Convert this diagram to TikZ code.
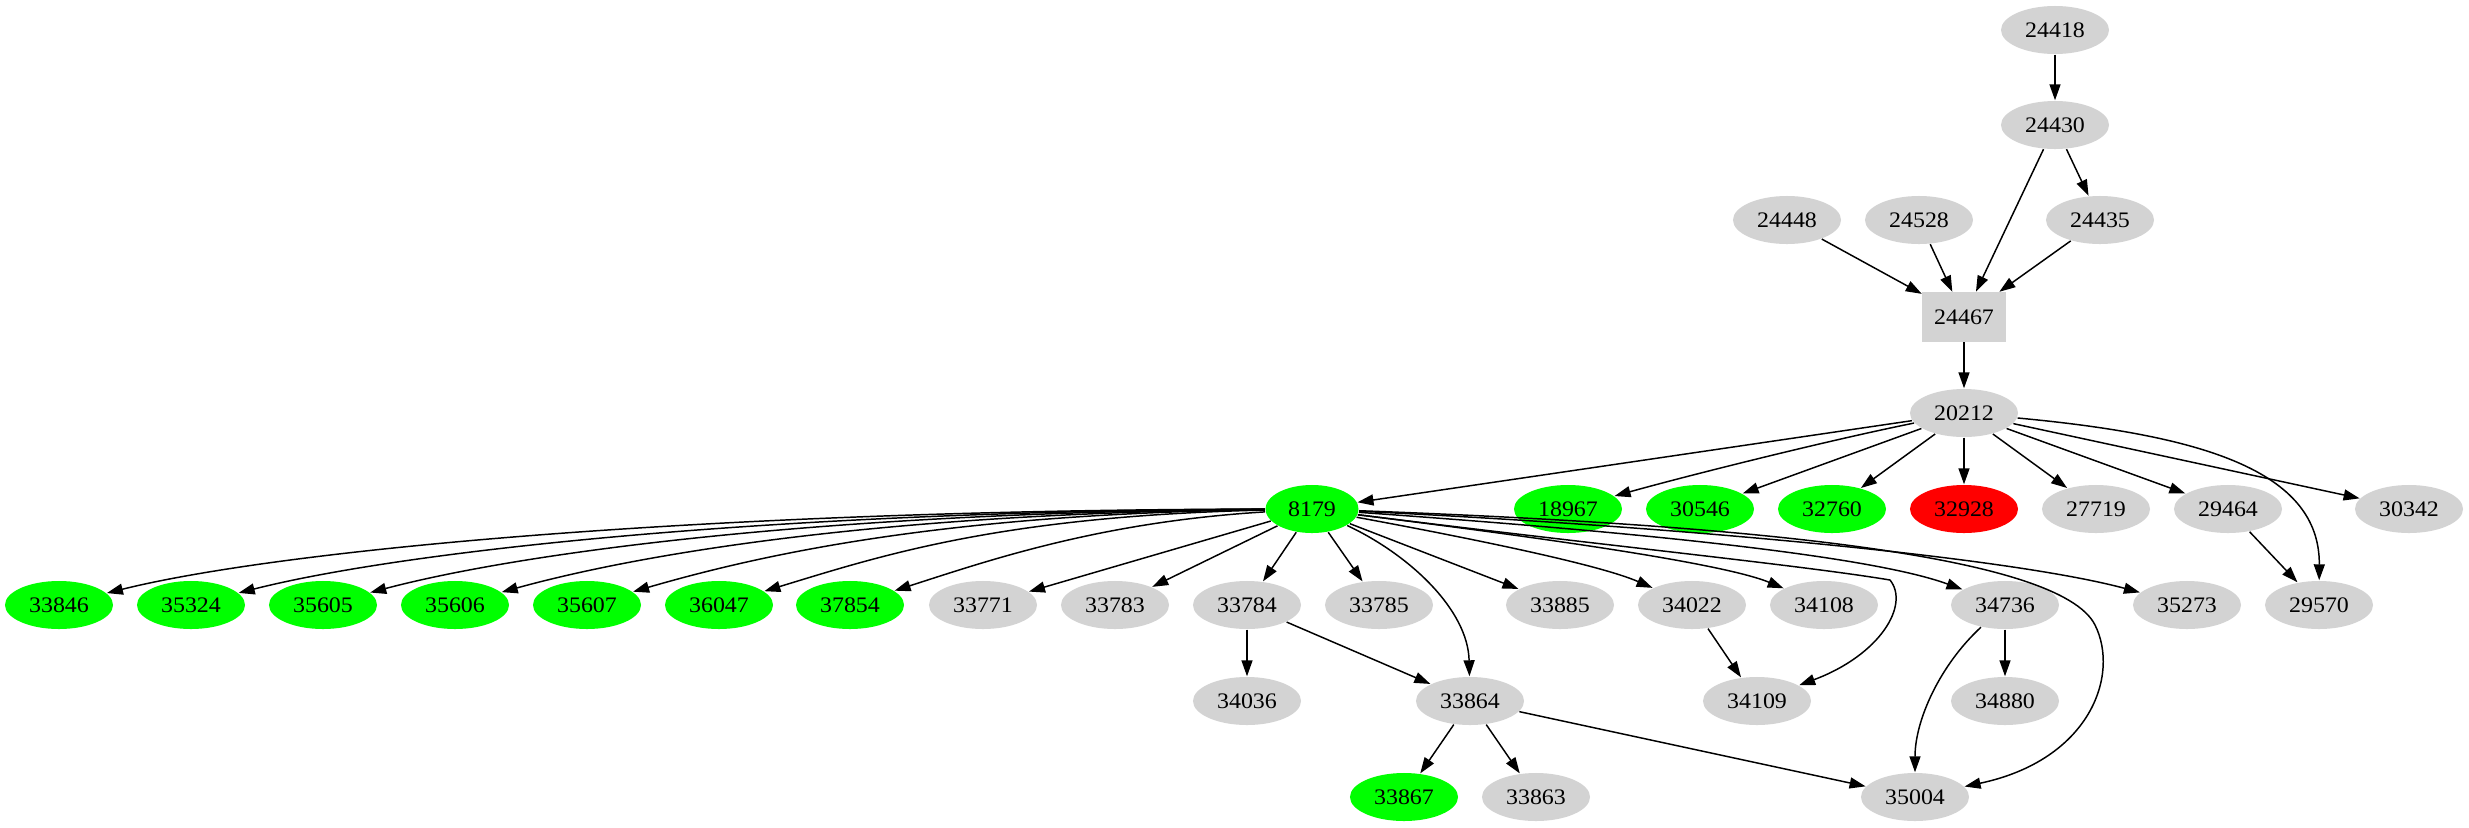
\documentclass[tikz,border=0pt]{standalone}
\usepackage{fontspec}
\setmainfont{Liberation Serif}
\usetikzlibrary{shapes.geometric,arrows.meta}
\definecolor{lgray}{HTML}{D3D3D3}
\definecolor{lgreen}{HTML}{00FF00}
\definecolor{lred}{HTML}{FF0000}
\newcommand{\lb}[1]{\scalebox{1.08}[1]{#1}}
\begin{document}
\begin{tikzpicture}[x=0.01cm,y=-0.01cm,
  gnode/.style={ellipse,fill=lgray,draw=none,minimum width=1.08cm,minimum height=0.48cm,inner sep=0pt,font=\fontsize{6.3}{7.5}\selectfont},
  grn/.style={gnode,fill=lgreen},
  rd/.style={gnode,fill=lred},
  boxnode/.style={rectangle,fill=lgray,draw=none,minimum width=0.83cm,minimum height=0.49cm,inner sep=0pt,font=\fontsize{6.3}{7.5}\selectfont},
  link/.style={draw=black,line width=0.42pt,-{Triangle[length=1.6mm,width=1.1mm]}}]
\useasboundingbox (0,0) rectangle (2469,827);
% nodes
\node[gnode] (n24418) at (2055,30) {\lb{24418}};
\node[gnode] (n24430) at (2055,125) {\lb{24430}};
\node[gnode] (n24448) at (1787,220) {\lb{24448}};
\node[gnode] (n24528) at (1919,220) {\lb{24528}};
\node[gnode] (n24435) at (2100,220) {\lb{24435}};
\node[boxnode] (n24467) at (1964,317) {\lb{24467}};
\node[gnode] (n20212) at (1964,413) {\lb{20212}};
\node[grn,minimum width=0.93cm] (n8179) at (1312,509) {\lb{8179}};
\node[grn] (n18967) at (1568,509) {\lb{18967}};
\node[grn] (n30546) at (1700,509) {\lb{30546}};
\node[grn] (n32760) at (1832,509) {\lb{32760}};
\node[rd] (n32928) at (1964,509) {\lb{32928}};
\node[gnode] (n27719) at (2096,509) {\lb{27719}};
\node[gnode] (n29464) at (2228,509) {\lb{29464}};
\node[gnode] (n30342) at (2409,509) {\lb{30342}};
\node[grn] (n33846) at (59,605) {\lb{33846}};
\node[grn] (n35324) at (191,605) {\lb{35324}};
\node[grn] (n35605) at (323,605) {\lb{35605}};
\node[grn] (n35606) at (455,605) {\lb{35606}};
\node[grn] (n35607) at (587,605) {\lb{35607}};
\node[grn] (n36047) at (719,605) {\lb{36047}};
\node[grn] (n37854) at (850,605) {\lb{37854}};
\node[gnode] (n33771) at (983,605) {\lb{33771}};
\node[gnode] (n33783) at (1115,605) {\lb{33783}};
\node[gnode] (n33784) at (1247,605) {\lb{33784}};
\node[gnode] (n33785) at (1379,605) {\lb{33785}};
\node[gnode] (n33885) at (1560,605) {\lb{33885}};
\node[gnode] (n34022) at (1692,605) {\lb{34022}};
\node[gnode] (n34108) at (1824,605) {\lb{34108}};
\node[gnode] (n34736) at (2005,605) {\lb{34736}};
\node[gnode] (n35273) at (2187,605) {\lb{35273}};
\node[gnode] (n29570) at (2319,605) {\lb{29570}};
\node[gnode] (n34036) at (1247,701) {\lb{34036}};
\node[gnode] (n33864) at (1470,701) {\lb{33864}};
\node[gnode] (n34109) at (1757,701) {\lb{34109}};
\node[gnode] (n34880) at (2005,701) {\lb{34880}};
\node[grn] (n33867) at (1404,797) {\lb{33867}};
\node[gnode] (n33863) at (1536,797) {\lb{33863}};
\node[gnode] (n35004) at (1915,797) {\lb{35004}};
\coordinate (k34109) at (1890,580);
\coordinate (k35004) at (2095,625);
% edges top
\draw[link] (n24418) -- (n24430);
\draw[link] (n24430) -- (n24467);
\draw[link] (n24430) -- (n24435);
\draw[link] (n24448) -- (n24467);
\draw[link] (n24528) -- (n24467);
\draw[link] (n24435) -- (n24467);
\draw[link] (n24467) -- (n20212);
% from 20212
\draw[link] (n20212) -- (n8179);
\draw[link] (n20212) .. controls (1830,440) and (1690,475) .. (n18967);
\draw[link] (n20212) -- (n30546);
\draw[link] (n20212) -- (n32760);
\draw[link] (n20212) -- (n32928);
\draw[link] (n20212) -- (n27719);
\draw[link] (n20212) -- (n29464);
\draw[link] (n20212) -- (n30342);
\draw[link] (n20212) .. controls (2200,435) and (2320,470) .. (n29570);
\draw[link] (n29464) -- (n29570);
% from 8179 to the left
\draw[link] (n8179) .. controls (700,510) and (280,550) .. (n33846);
\draw[link] (n8179) .. controls (760,511) and (400,552) .. (n35324);
\draw[link] (n8179) .. controls (820,512) and (520,553) .. (n35605);
\draw[link] (n8179) .. controls (880,513) and (640,554) .. (n35606);
\draw[link] (n8179) .. controls (940,514) and (760,555) .. (n35607);
\draw[link] (n8179) .. controls (1000,516) and (880,556) .. (n36047);
\draw[link] (n8179) .. controls (1100,522) and (990,560) .. (n37854);
\draw[link] (n8179) -- (n33771);
\draw[link] (n8179) -- (n33783);
\draw[link] (n8179) -- (n33784);
\draw[link] (n8179) -- (n33785);
% from 8179 to the right
\draw[link] (n8179) .. controls (1410,555) and (1468,610) .. (n33864);
\draw[link] (n8179) -- (n33885);
\draw[link] (n8179) .. controls (1480,540) and (1600,565) .. (n34022);
\draw[link] (n8179) .. controls (1520,535) and (1720,562) .. (n34108);
\draw[link] (n8179) .. controls (1600,545) and (1800,565) .. (k34109) .. controls (1910,605) and (1880,655) .. (n34109);
\draw[link] (n8179) .. controls (1580,528) and (1860,552) .. (n34736);
\draw[link] (n8179) .. controls (1750,525) and (2060,555) .. (k35004) .. controls (2120,675) and (2090,760) .. (n35004);
\draw[link] (n8179) .. controls (1650,525) and (2000,555) .. (n35273);
% lower
\draw[link] (n33784) -- (n34036);
\draw[link] (n33784) -- (n33864);
\draw[link] (n33864) -- (n33867);
\draw[link] (n33864) -- (n33863);
\draw[link] (n33864) -- (n35004);
\draw[link] (n34022) -- (n34109);
\draw[link] (n34736) -- (n34880);
\draw[link] (n34736) .. controls (1940,665) and (1915,720) .. (n35004);
\end{tikzpicture}
\end{document}
